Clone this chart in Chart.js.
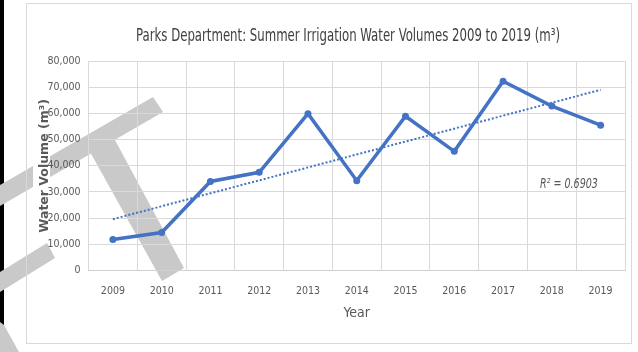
<!DOCTYPE html>
<html>
<head>
<meta charset="utf-8">
<script src="https://cdn.jsdelivr.net/npm/chart.js@4.4.1/dist/chart.umd.min.js"></script>
<style>
  html, body { margin: 0; padding: 0; background: #fff; }
  #wrap { width: 638px; height: 352px; }
</style>
</head>
<body>
<div id="wrap"><canvas id="chart" width="638" height="352"></canvas></div>
<script>
// irrigation volumes per summer, m3
var years = ["2009", "2010", "2011", "2012", "2013", "2014", "2015", "2016", "2017", "2018", "2019"];
var volumes = [11800, 14500, 34000, 37500, 59900, 34300, 58900, 45500, 72300, 62800, 55500];
// linear trendline, value at first and last year
var trendEnds = [19600, 69000];
var yMin = 0, yMax = 80000, yStep = 10000;

var chartTitle = "Parks Department: Summer Irrigation Water Volumes 2009 to 2019 (m\u00b3)";
var yTitle = "Water Volume (m\u00b3)";
var xTitle = "Year";
var rSquaredText = "R\u00b2 = 0.6903";

var narrow = "'DejaVu Sans Condensed', 'Liberation Sans', sans-serif";
var textGrey = "#595959";
var lineBlue = "#4472C4";
var shapeGrey = "#c9c9c9";

var trendData = years.map(function () { return null; });
trendData[0] = trendEnds[0];
trendData[years.length - 1] = trendEnds[1];

function poly(ctx, pts) {
    ctx.beginPath();
    ctx.moveTo(pts[0][0], pts[0][1]);
    for (var i = 1; i < pts.length; i++) ctx.lineTo(pts[i][0], pts[i][1]);
    ctx.closePath();
    ctx.fill();
}

// page backdrop: frame, dark edge and the grey stroke shapes behind the chart
var backdrop = {
    id: "backdrop",
    beforeDraw: function (chart) {
        var ctx = chart.ctx;
        ctx.save();
        ctx.fillStyle = "#fff";
        ctx.fillRect(0, 0, chart.width, chart.height);
        ctx.fillStyle = "#000";
        ctx.fillRect(0, 0, 4, chart.height);

        ctx.fillStyle = shapeGrey;
        poly(ctx, [[0, 185], [153, 97], [163, 112], [0, 206]]);
        poly(ctx, [[85, 143], [109, 129], [184, 268], [162, 281]]);
        poly(ctx, [[0, 272], [47, 243], [55, 258], [0, 292]]);
        poly(ctx, [[0, 322], [4, 325], [19, 352], [0, 352]]);

        // axis title sits on its own white box
        ctx.fillStyle = "#fff";
        ctx.fillRect(33, 96, 17, 142);

        ctx.strokeStyle = "#d9d9d9";
        ctx.lineWidth = 1;
        ctx.strokeRect(26.5, 3.5, 605, 340);
        ctx.restore();
    },
    afterDraw: function (chart) {
        var ctx = chart.ctx;
        var x = chart.scales.x, y = chart.scales.y;
        ctx.save();
        ctx.fillStyle = "#404040";
        ctx.font = "17px " + narrow;
        ctx.textAlign = "center";
        ctx.textBaseline = "middle";
        ctx.fillText(chartTitle, 348, 37, 424);

        ctx.fillStyle = textGrey;
        ctx.font = "italic 14px " + narrow;
        ctx.fillText(rSquaredText, x.getPixelForValue(9.35), y.getPixelForValue(33000), 58);
        ctx.restore();
    }
};

new Chart(document.getElementById("chart"), {
    type: "line",
    data: {
        labels: years,
        datasets: [{
            label: "Trend",
            data: trendData,
            spanGaps: true,
            borderColor: lineBlue,
            borderWidth: 2,
            borderDash: [2, 2],
            pointRadius: 0,
            fill: false
        }, {
            label: "Volume",
            data: volumes,
            borderColor: lineBlue,
            backgroundColor: lineBlue,
            borderWidth: 3.5,
            pointRadius: 3.5,
            pointBackgroundColor: lineBlue,
            pointBorderWidth: 0,
            tension: 0,
            fill: false
        }]
    },
    options: {
        responsive: false,
        animation: false,
        devicePixelRatio: 1,
        layout: { padding: { left: 27, right: 13, top: 61, bottom: 26.5 } },
        plugins: {
            legend: { display: false },
            tooltip: { enabled: false }
        },
        scales: {
            x: {
                offset: true,
                grid: { offset: true, color: "#d9d9d9", drawTicks: false },
                border: { color: "#d0d0d0" },
                ticks: { color: textGrey, font: { family: narrow, size: 10.5 }, padding: 14, maxRotation: 0 },
                title: { display: true, text: xTitle, color: textGrey, font: { family: narrow, size: 14 }, padding: { top: 0, bottom: 4 } },
                afterFit: function (s) { s.height = 55; }
            },
            y: {
                min: yMin,
                max: yMax,
                grid: { color: "#d9d9d9", drawTicks: false },
                border: { display: false },
                ticks: {
                    stepSize: yStep,
                    color: textGrey,
                    font: { family: narrow, size: 10.5 },
                    padding: 8,
                    callback: function (v) { return v.toLocaleString("en-US"); }
                },
                title: { display: true, text: yTitle, color: textGrey, font: { family: "'DejaVu Sans'", size: 12.5, weight: "bold" }, padding: { top: 10, bottom: 0 } },
                afterFit: function (s) { s.width = 61.5; }
            }
        }
    },
    plugins: [backdrop]
});
</script>
</body>
</html>
